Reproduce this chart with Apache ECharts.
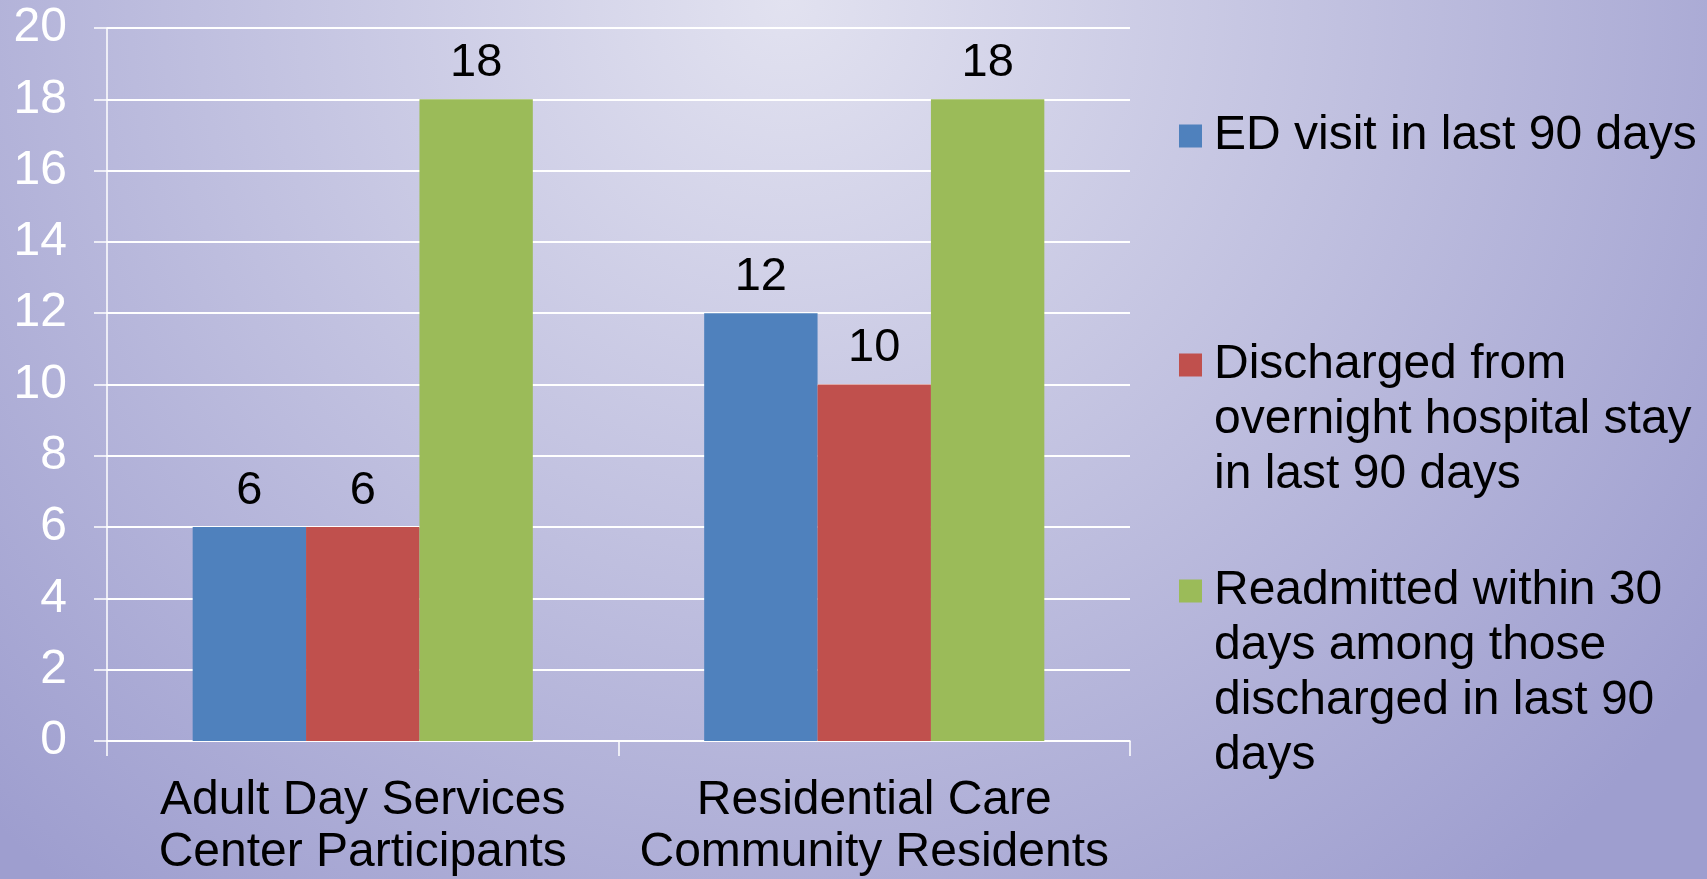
<!DOCTYPE html>
<html>
<head>
<meta charset="utf-8">
<script src="https://cdn.jsdelivr.net/npm/echarts@6/dist/echarts.min.js"></script>
<style>
    html, body { margin: 0; padding: 0; }
    #chart { width: 1707px; height: 879px; }
</style>
</head>
<body>
<div id="chart"></div>
<script>
const categories = ['Adult Day Services\nCenter Participants', 'Residential Care\nCommunity Residents']
const seriesNames = ['ED visit in last 90 days', 'Discharged from overnight hospital stay in last 90 days', 'Readmitted within 30 days among those discharged in last 90 days']
const legendLines = [
    ['ED visit in last 90 days'],
    ['Discharged from', 'overnight hospital stay', 'in last 90 days'],
    ['Readmitted within 30', 'days among those', 'discharged in last 90', 'days']
]
const edVisit = [6, 12]
const discharged = [6, 10]
const readmitted = [18, 18]
const colors = ['#4f81bd', '#c0504d', '#9bbb59']
const yMin = 0
const yMax = 20
const yStep = 2

const font = "'Liberation Sans', Arial, sans-serif"
const lineH = 55
// legend icon is centred on the text block, so blank lines are put in front
// to bring the first real line level with the icon
const legendTops = [108.5, 227.5, 398.5]

let chart = echarts.init(document.getElementById('chart'))

function barSeries(i, data) {
    return {
        name: seriesNames[i],
        type: 'bar',
        data: data,
        barGap: '0%',
        barCategoryGap: '33.5%',
        itemStyle: { color: colors[i] },
        label: {
            show: true,
            position: 'top',
            distance: 13,
            color: '#000',
            fontSize: 47,
            fontFamily: font
        }
    }
}

chart.setOption({
    backgroundColor: {
        type: 'radial',
        x: 0.46,
        y: 0,
        r: 1.3,
        colorStops: [
            { offset: 0, color: '#e2e2f0' },
            { offset: 1, color: '#9e9ecf' }
        ]
    },
    animation: false,
    grid: { left: 107, right: 577, top: 28, bottom: 137 },
    legend: legendLines.map((lines, i) => ({
        data: [seriesNames[i]],
        orient: 'vertical',
        left: 1179,
        top: legendTops[i],
        padding: 0,
        icon: 'rect',
        itemWidth: 23,
        itemHeight: 23,
        selectedMode: false,
        formatter: () => new Array(lines.length - 1).fill('').concat(lines).join('\n'),
        textStyle: {
            color: '#000',
            fontSize: 48,
            fontFamily: font,
            lineHeight: lineH,
            padding: [0, 0, 0, 7]
        }
    })),
    xAxis: {
        type: 'category',
        data: categories,
        axisLine: { show: true, lineStyle: { color: '#fff', width: 1.5 } },
        axisTick: { show: true, length: 15, lineStyle: { color: '#fff', width: 1.5 } },
        axisLabel: {
            interval: 0,
            color: '#000',
            fontSize: 48,
            fontFamily: font,
            lineHeight: 52,
            margin: 34
        }
    },
    yAxis: {
        type: 'value',
        min: yMin,
        max: yMax,
        interval: yStep,
        axisLine: { show: true, lineStyle: { color: '#fff', width: 1.5 } },
        axisTick: { show: true, length: 13, lineStyle: { color: '#fff', width: 1.5 } },
        splitLine: { show: true, lineStyle: { color: '#fff', width: 2 } },
        axisLabel: {
            color: '#fff',
            fontSize: 48,
            fontFamily: font,
            margin: 40
        }
    },
    series: [
        barSeries(0, edVisit),
        barSeries(1, discharged),
        barSeries(2, readmitted)
    ]
})
</script>
</body>
</html>
